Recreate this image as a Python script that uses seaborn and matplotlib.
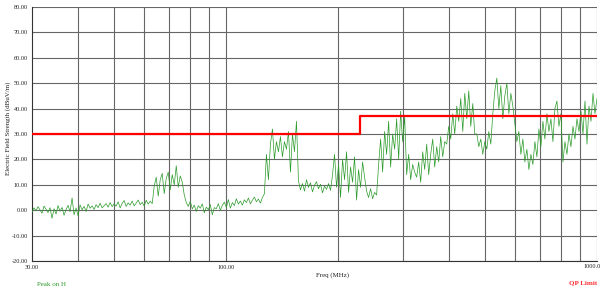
import numpy as np
import pandas as pd
import matplotlib
matplotlib.use("Agg")
import matplotlib.pyplot as plt
import seaborn as sns

# ---- data ----
# measured peak trace (dBuV/m), swept 30-1000 MHz
peak_levels = [
    -0.8, 0.9, -0.2, 1.4, 0.1, -1.2, 1.6, 0.4, -0.9, 1.0,
    -3.2, 0.6, -1.5, 1.8, -0.4, 1.1, -2.0, 0.3, 1.9, -0.6,
    4.8, -1.8, 0.9, -2.3, 2.1, 0.2, 1.5, -0.5, 2.4, 0.8,
    1.7, 0.3, 2.2, 1.0, 2.8, 0.9, 1.8, 2.6, 1.2, 3.0,
    1.4, 2.5, 1.6, 3.3, 0.9, 2.7, 3.8, 1.5, 2.9, 2.0,
    3.6, 1.7, 2.8, 4.0, 2.2, 3.1, 1.6, 3.9, 2.4, 3.5, 2.6,
    9.5, 13.0, 5.5, 12.0, 14.5, 6.5, 12.5, 15.0, 8.0, 14.0, 10.0, 17.5, 9.0, 13.5, 11.0, 6.0, 3.0,
    1.5, 3.5, 0.5, 2.0, -0.5, 1.8, 0.8, 2.5, -1.0, 1.2,
    0.2, 2.2, -1.8, 1.0, 0.6, 2.6, 0.0, 1.9, 3.2, 1.1,
    4.2, 0.8, 3.0, 1.8, 4.5, 2.4, 3.6, 2.0, 4.1, 3.0,
    4.8, 2.5, 3.9, 5.2, 3.3, 4.4, 2.8, 5.0, 6.5,
    22, 12, 26, 32, 20, 27, 23, 29, 21, 27, 24, 31, 15, 30, 23, 35,
    11.5, 8.0, 10.5, 7.5, 12.0, 9.0, 10.8, 7.2, 9.8, 11.2, 8.4, 10.2, 6.8, 9.5, 8.2, 10.5, 7.8,
    14, 22, 9, 18, 5, 20, 12, 23, 7, 17, 11, 21, 4, 16, 9, 19, 13,
    7.5, 5.0, 8.5, 4.5, 7.0, 6.0,
    18, 28, 15, 31, 22, 35, 17, 30, 24, 36, 20, 39, 27, 37,
    14, 22, 12, 18, 15,
    13, 19, 11, 23, 16, 26, 14, 22, 28, 17, 25, 19, 29, 21, 27,
    26, 33, 28, 38, 30, 41, 35, 44, 31, 46, 36, 47, 33, 42, 30,
    30, 25, 28, 22, 27, 24, 31, 26,
    38, 47, 52, 40, 49, 36, 45, 50, 38, 46, 41,
    34, 27, 31, 22, 28, 19, 24, 16, 22, 18, 27, 21, 32, 25,
    35, 28, 38, 31, 36, 27, 40, 43, 33, 38,
    19, 27, 22, 30, 25, 33, 28, 36, 31,
    39, 30, 43, 26, 41, 35, 46, 38, 44,
]
# sweep points are log spaced between start and stop
peak_freqs = np.geomspace(30, 1000, len(peak_levels))

# QP limit line
limit_freqs = [30, 230, 1000]
limit_levels = [30, 37, 37]

y_ticks = [-20, -10, 0, 10, 20, 30, 40, 50, 60, 70, 80]
x_ticks = [30, 100, 1000]
x_tick_labels = ["30.00", "100.00", ""]
x_grid = [40, 50, 60, 70, 80, 90, 100, 200, 300, 400, 500, 600, 700, 800, 900, 1000]

# ---- style ----
sns.set_style("white")
plt.rcParams['font.family'] = ['Liberation Serif', 'DejaVu Serif']

peak_df = pd.DataFrame({"freq": peak_freqs, "level": peak_levels})
limit_df = pd.DataFrame({"freq": limit_freqs, "level": limit_levels})

fig = plt.figure(figsize=(6.03, 2.88), dpi=100)
ax = fig.add_axes([32 / 603, 1 - 261 / 288, 565 / 603, 254 / 288])

ax.set_xscale("log")
ax.set_xlim(30, 1000)
ax.set_ylim(-20, 80)

# grid
for y in y_ticks:
    ax.axhline(y, color="#666666", lw=0.8, zorder=1)
for x in x_grid:
    ax.axvline(x, color="#666666", lw=0.8, zorder=1)

sns.lineplot(data=peak_df, x="freq", y="level", ax=ax, color="#2a9a2a",
             lw=0.5, estimator=None, sort=False, zorder=3)
sns.lineplot(data=limit_df, x="freq", y="level", ax=ax, color="#ff0000",
             lw=1.6, estimator=None, sort=False, drawstyle="steps-post", zorder=4)

ax.set_yticks(y_ticks)
ax.set_yticklabels([f"{v:.2f}" for v in y_ticks], fontsize=4.5)
ax.set_xticks(x_ticks)
ax.set_xticklabels(x_tick_labels, fontsize=4.5)
ax.xaxis.set_minor_locator(matplotlib.ticker.NullLocator())
ax.tick_params(axis="both", length=2, width=0.6, pad=1, colors="#333333")
ax.tick_params(axis="both", labelcolor="#222222")
ax.set_xlabel("")
ax.set_ylabel("")

for side in ["top", "right"]:
    ax.spines[side].set_visible(False)
for side in ["left", "bottom"]:
    ax.spines[side].set_color("#333333")
    ax.spines[side].set_linewidth(0.8)

# last tick label sits against the right edge
fig.text(601 / 603, 1 - 267 / 288, "1000.0", fontsize=4.5, ha="right", va="center", color="#222222")

fig.text(332 / 603, 1 - 275 / 288, "Freq (MHz)", fontsize=5, ha="center", va="center", color="#222222")
fig.text(8 / 603, 1 - 128 / 288, "Electric Field Strength (dBuV/m)", fontsize=5,
         rotation=90, ha="center", va="center", color="#222222")
fig.text(37 / 603, 1 - 284 / 288, "Peak on H", fontsize=5, ha="left", va="center", color="#2a9a2a")
fig.text(597 / 603, 1 - 283 / 288, "QP Limit", fontsize=5, ha="right", va="center",
         color="#ff3030", fontweight="bold")

fig.savefig("out.png", dpi=100)
